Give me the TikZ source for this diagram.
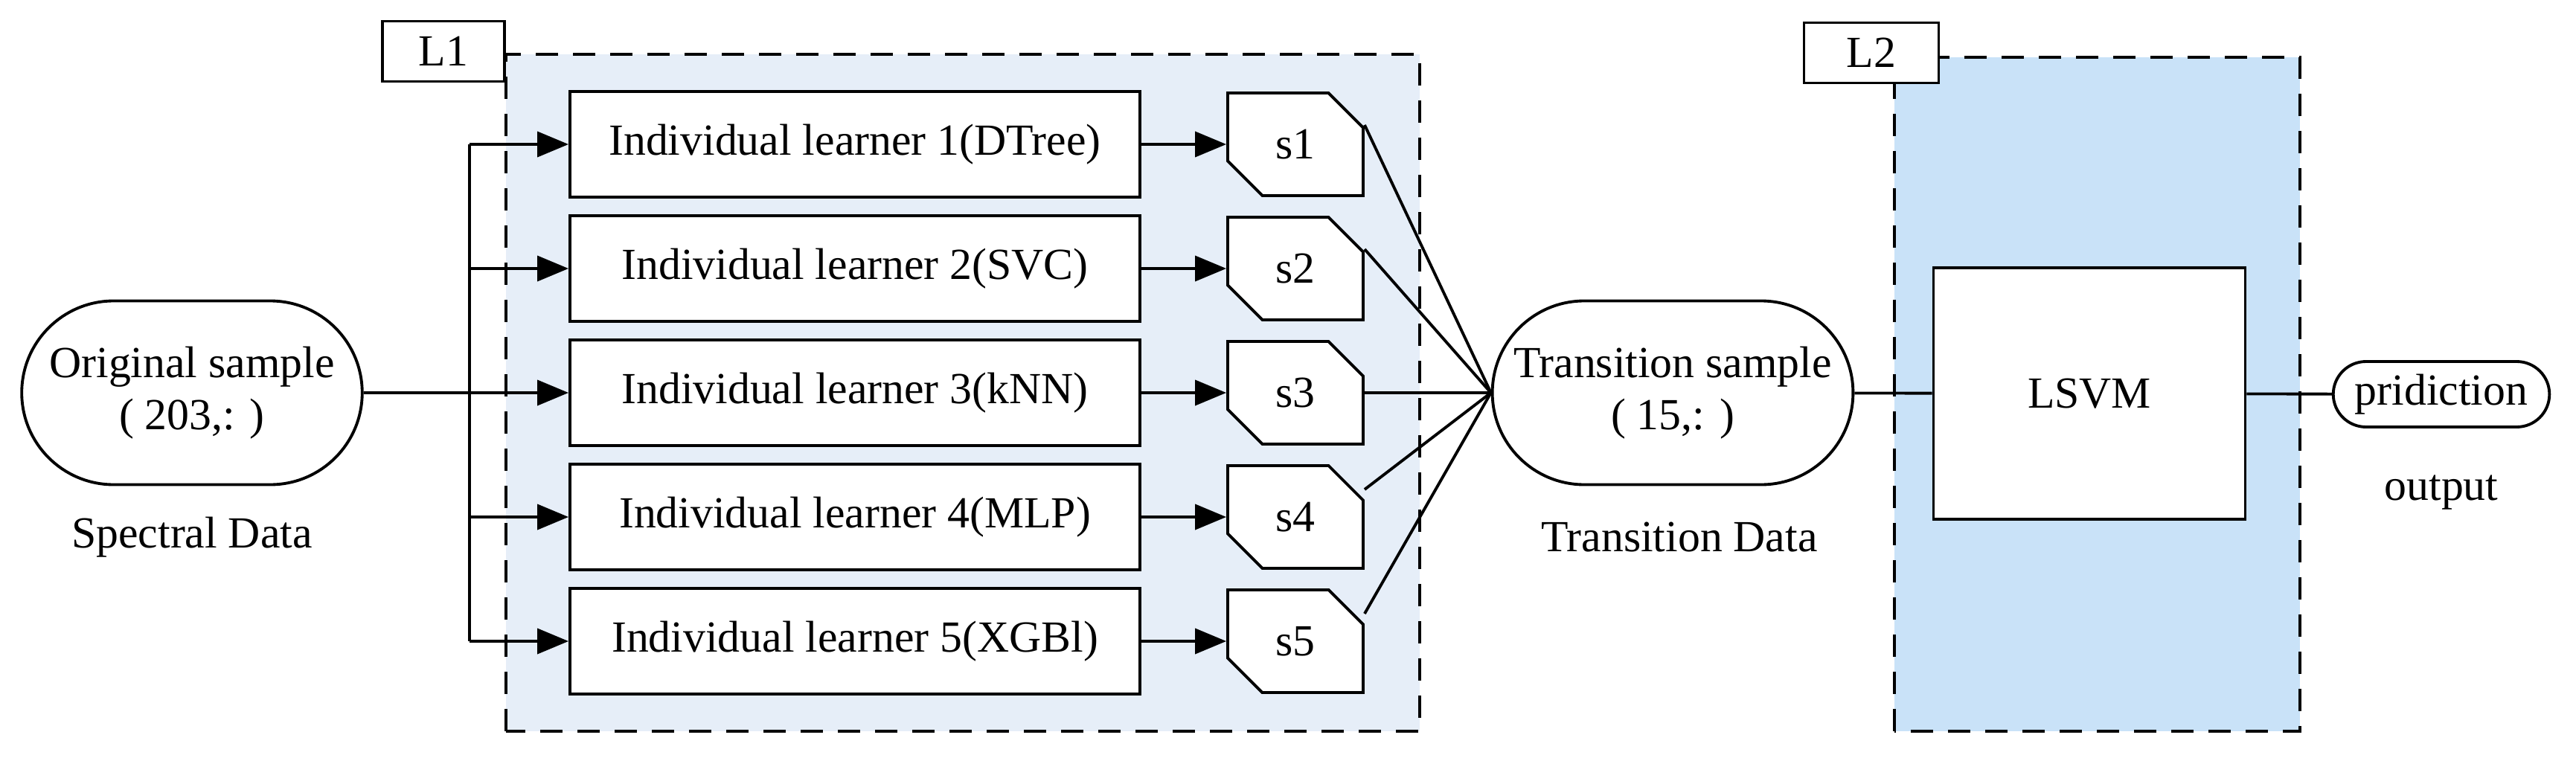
\documentclass[tikz,border=0pt]{standalone}
\usepackage{fontspec}
\setmainfont{Liberation Serif}
\usetikzlibrary{arrows.meta,shapes.misc}
\definecolor{boxone}{HTML}{E6EEF8}
\definecolor{boxtwo}{HTML}{C9E2F8}
\tikzset{
  every node/.style={font=\fontsize{17}{20}\selectfont},
  line/.style={line width=1.1pt},
  arr/.style={line width=1.1pt,-{Triangle[length=0.42cm,width=0.34cm]}},
  region/.style={line width=1.1pt,dash pattern=on 0.3cm off 0.2cm},
  learner/.style={draw,line width=1.1pt,fill=white,minimum width=7.66cm,minimum height=1.42cm},
  score/.style={draw,line width=1.1pt,fill=white,chamfered rectangle,chamfered rectangle corners={north east,south west},chamfered rectangle xsep=0.42cm,chamfered rectangle ysep=0.42cm,inner sep=0pt,minimum width=1.82cm,minimum height=1.38cm},
  sample/.style={draw,line width=1.1pt,fill=white,rounded rectangle,minimum width=4.81cm,minimum height=2.47cm,align=center},
  tag/.style={draw,line width=1.1pt,fill=white,minimum width=1.64cm,minimum height=0.81cm}
}
\begin{document}
\begin{tikzpicture}
  \useasboundingbox (0,0) rectangle (34.62,10.18);
  % Regions
  \draw[region,fill=boxone] (6.80,0.35) rectangle (19.08,9.45);
  \draw[region,fill=boxtwo] (25.46,0.35) rectangle (30.91,9.41);
  \node[tag] (L1) at (5.96,9.49) {L1};
  \node[tag,minimum width=1.81cm] (L2) at (25.15,9.47) {L2};

  % Samples
  \node[sample] (orig) at (2.58,4.90) {Original sample\\( 203,: )};
  \node (spec) at (2.58,2.96) {Spectral Data};
  \node[sample] (trans) at (22.48,4.90) {Transition sample\\( 15,: )};
  \node (tdata) at (22.57,2.96) {Transition Data};
  \node[draw,line width=1.1pt,fill=white,minimum width=4.19cm,minimum height=3.38cm] (lsvm) at (28.08,4.89) {LSVM};
  \node[sample,minimum width=3.14cm,minimum height=0.88cm] (pred) at (32.81,4.88) {pridiction};
  \node (out) at (32.81,3.56) {output};

  % Learners
  \coordinate (split) at (6.31,4.90);
  \foreach \i/\y/\name in {1/8.24/DTree,2/6.57/SVC,3/4.90/kNN,4/3.23/MLP,5/1.56/XGBl} {
    \node[learner] (lrn\i) at (11.49,\y) {Individual learner \i(\name)};
    \node[score] (s\i) at (17.41,\y) {s\i};
    \coordinate (br\i) at (6.31,\y);
    \draw[arr] (lrn\i) -- (s\i);
  }
  \draw[line] (br1) -- (br5);
  \foreach \i in {1,2,4,5} \draw[arr] (br\i) -- (lrn\i);
  \draw[arr] (orig) -- (lrn3);

  % Scores to transition
  \foreach \i/\d in {1/0.26,2/0.26,4/0.37,5/0.37}
    \draw[line] ([yshift=\d cm]s\i.east) -- (trans.west);
  \draw[line] (s3) -- (trans);
  \draw[line] (trans) -- (lsvm);
  \draw[line] (lsvm) -- (pred);
\end{tikzpicture}
\end{document}
